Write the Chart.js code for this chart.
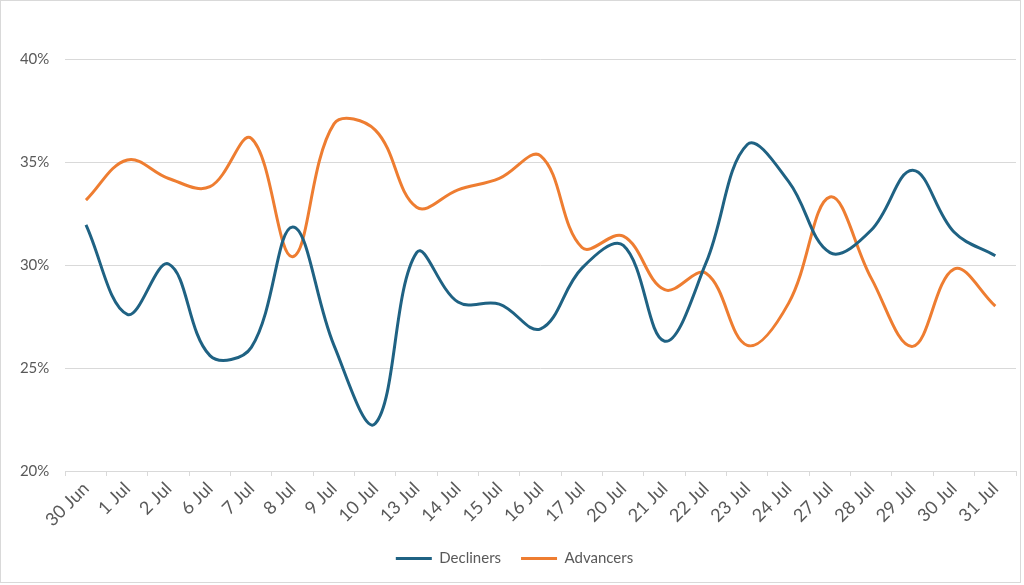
<!DOCTYPE html>
<html>
<head>
<meta charset="utf-8">
<script src="https://cdn.jsdelivr.net/npm/chart.js@4.4.0/dist/chart.umd.min.js"></script>
<style>
html,body{margin:0;padding:0;background:#fff;}
#wrap{position:relative;width:1024px;height:585px;}
canvas{display:block;}
</style>
</head>
<body>
<div id="wrap"><canvas id="c" width="1024" height="585" style="width:1024px;height:585px"></canvas></div>
<script>
const categories = ['30 Jun','1 Jul','2 Jul','6 Jul','7 Jul','8 Jul','9 Jul','10 Jul','13 Jul','14 Jul','15 Jul','16 Jul','17 Jul','20 Jul','21 Jul','22 Jul','23 Jul','24 Jul','27 Jul','28 Jul','29 Jul','30 Jul','31 Jul'];
const decliners = [31.95, 27.6, 30.05, 25.6, 26.0, 31.85, 26.1, 22.3, 30.6, 28.2, 28.1, 26.9, 29.85, 30.95, 26.3, 30.1, 35.85, 34.05, 30.6, 31.7, 34.6, 31.6, 30.45];
const advancers = [33.15, 35.1, 34.2, 33.8, 36.15, 30.4, 36.85, 36.55, 32.8, 33.65, 34.2, 35.3, 30.85, 31.4, 28.8, 29.6, 26.1, 28.15, 33.3, 29.35, 26.05, 29.8, 28.0];
const yMin = 20, yMax = 40, yStep = 5;

const TEXT = '#595959';
const GRID = '#d9d9d9';
const FONT = {family: 'Lato', size: 15};
const XFONT = {family: 'Lato', size: 18};

const framePlugin = {
  id: 'frame',
  beforeDraw(chart) {
    const ctx = chart.ctx;
    ctx.save();
    ctx.fillStyle = '#fff';
    ctx.fillRect(0, 0, chart.width, chart.height);
    ctx.strokeStyle = GRID;
    ctx.lineWidth = 1;
    ctx.strokeRect(0.5, 0.5, 1020, 582);
    ctx.restore();
  }
};

new Chart(document.getElementById('c'), {
  type: 'line',
  data: {
    labels: categories,
    datasets: [
      {label: 'Decliners', data: decliners, borderColor: '#1f6283', backgroundColor: '#1f6283', borderWidth: 3, pointRadius: 0, tension: 0.38, fill: false},
      {label: 'Advancers', data: advancers, borderColor: '#ee7d31', backgroundColor: '#ee7d31', borderWidth: 3, pointRadius: 0, tension: 0.38, fill: false}
    ]
  },
  options: {
    responsive: false,
    animation: false,
    devicePixelRatio: 1,
    layout: {padding: {left: 13, right: 8, top: 59, bottom: 9}},
    plugins: {
      legend: {
        position: 'bottom',
        labels: {font: FONT, color: TEXT, usePointStyle: true, pointStyle: 'line', pointStyleWidth: 36, padding: 20}
      },
      tooltip: {enabled: false}
    },
    scales: {
      x: {
        offset: true,
        grid: {offset: true, drawOnChartArea: false, drawTicks: true, tickLength: 5, color: GRID},
        border: {display: true, color: GRID},
        ticks: {font: XFONT, color: TEXT, autoSkip: false, maxRotation: 45, minRotation: 45, padding: 2},
        afterFit(scale) { scale.height = 60; }
      },
      y: {
        min: yMin, max: yMax,
        grid: {color: GRID, drawTicks: false},
        border: {display: false},
        ticks: {stepSize: yStep, font: FONT, color: TEXT, padding: 16, callback: v => v + '%'},
        afterFit(scale) { scale.width = 52.3; }
      }
    }
  },
  plugins: [framePlugin]
});
</script>
</body>
</html>
